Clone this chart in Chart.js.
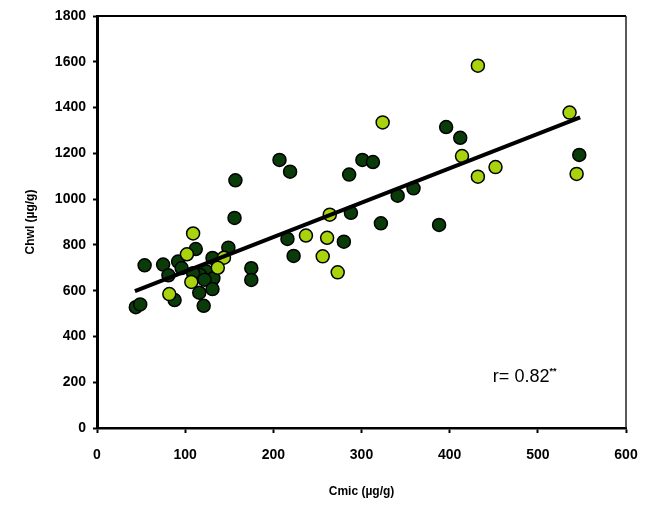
<!DOCTYPE html>
<html>
<head>
<meta charset="utf-8">
<script src="https://cdn.jsdelivr.net/npm/chart.js@4"></script>
<style>
  html, body { margin: 0; padding: 0; background: #fff; }
  #wrap { width: 657px; height: 505px; }
</style>
</head>
<body>
<div id="wrap"><canvas id="chart" width="657" height="505"></canvas></div>
<script>
// Cmic vs Chwl, two site groups + regression line
const darkX = [157, 207, 219, 286, 301, 313, 156, 288, 396, 412, 547, 341, 359, 322, 388,
  112, 54, 75, 92, 96, 81, 149, 131, 124, 117, 109, 132, 122, 116, 131, 88, 121, 44, 49,
  175, 175, 216, 223, 280];
const darkY = [1082, 1171, 1120, 1107, 1171, 1162, 918, 940, 1315, 1268, 1193, 1015, 1047, 894, 887,
  782, 711, 714, 727, 699, 667, 788, 743, 684, 668, 676, 654, 648, 591, 607, 559, 534, 528, 540,
  698, 647, 826, 752, 814];

const lightX = [432, 324, 414, 452, 432, 536, 544, 264, 109, 102, 144, 137, 107, 82, 237, 261, 256, 273];
const lightY = [1583, 1335, 1188, 1140, 1098, 1378, 1110, 932, 850, 759, 744, 700, 638, 585, 841, 831, 750, 680];

// regression line end points
const fitX = [43, 548];
const fitY = [598, 1357];

const xTicks = [0, 100, 200, 300, 400, 500, 600];
const yTicks = [0, 200, 400, 600, 800, 1000, 1200, 1400, 1600, 1800];

const rLabel = 'r= 0.82';
const rStars = '**';
const rPos = { x: 449, y: 202 };

const pts = (xs, ys) => xs.map((x, i) => ({ x, y: ys[i] }));

const FONT = "'Liberation Sans', Arial, sans-serif";

// box around plot + r annotation
const extras = {
  id: 'extras',
  afterDraw(chart) {
    const { ctx, chartArea: a, scales } = chart;
    ctx.save();
    ctx.strokeStyle = '#000';
    ctx.lineWidth = 2;
    ctx.beginPath();
    ctx.moveTo(a.left, a.top);
    ctx.lineTo(a.right, a.top);
    ctx.stroke();
    ctx.lineWidth = 1.5;
    ctx.strokeStyle = '#222';
    ctx.beginPath();
    ctx.moveTo(a.right, a.top);
    ctx.lineTo(a.right, a.bottom);
    ctx.stroke();

    const px = scales.x.getPixelForValue(rPos.x);
    const py = scales.y.getPixelForValue(rPos.y);
    ctx.fillStyle = '#000';
    ctx.textBaseline = 'alphabetic';
    ctx.font = '18px ' + FONT;
    ctx.fillText(rLabel, px, py);
    const w = ctx.measureText(rLabel).width;
    ctx.font = 'bold 9px ' + FONT;
    ctx.fillText(rStars, px + w, py - 8);
    ctx.restore();
  }
};

new Chart(document.getElementById('chart'), {
  type: 'scatter',
  data: {
    datasets: [
      {
        label: 'dark',
        data: pts(darkX, darkY),
        backgroundColor: '#0a3c0a',
        borderColor: '#000',
        borderWidth: 1.5,
        pointRadius: 6.5,
        order: 3
      },
      {
        label: 'light',
        data: pts(lightX, lightY),
        backgroundColor: '#a9d30c',
        borderColor: '#000',
        borderWidth: 1.5,
        pointRadius: 6.5,
        order: 2
      },
      {
        label: 'fit',
        data: pts(fitX, fitY),
        showLine: true,
        borderColor: '#000',
        borderWidth: 4,
        pointRadius: 0,
        order: 1
      }
    ]
  },
  options: {
    responsive: false,
    animation: false,
    layout: { padding: { left: 19, top: 16, right: 31, bottom: 2 } },
    plugins: { legend: { display: false }, tooltip: { enabled: false } },
    scales: {
      x: {
        type: 'linear',
        min: 0, max: 600,
        afterBuildTicks: s => { s.ticks = xTicks.map(v => ({ value: v })); },
        afterFit: s => { s.height = 75; },
        grid: { display: true, drawOnChartArea: false, drawTicks: true, tickLength: 5, color: '#000', tickWidth: 2 },
        border: { display: true, color: '#000', width: 2.5 },
        ticks: { color: '#000', padding: 14, callback: v => String(v), font: { family: FONT, size: 14, weight: 'bold' }, maxRotation: 0 },
        title: { display: true, text: 'Cmic (µg/g)', color: '#000', font: { family: FONT, size: 12, weight: 'bold' } }
      },
      y: {
        type: 'linear',
        min: 0, max: 1800,
        afterBuildTicks: s => { s.ticks = yTicks.map(v => ({ value: v })); },
        afterFit: s => { s.width = 78; },
        grid: { display: true, drawOnChartArea: false, drawTicks: true, tickLength: 4, color: '#000', tickWidth: 2 },
        border: { display: true, color: '#000', width: 3 },
        ticks: { color: '#000', padding: 7, callback: v => String(v), font: { family: FONT, size: 14, weight: 'bold' } },
        title: { display: true, text: 'Chwl (µg/g)', color: '#000', font: { family: FONT, size: 12, weight: 'bold' } }
      }
    }
  },
  plugins: [extras]
});
</script>
</body>
</html>
